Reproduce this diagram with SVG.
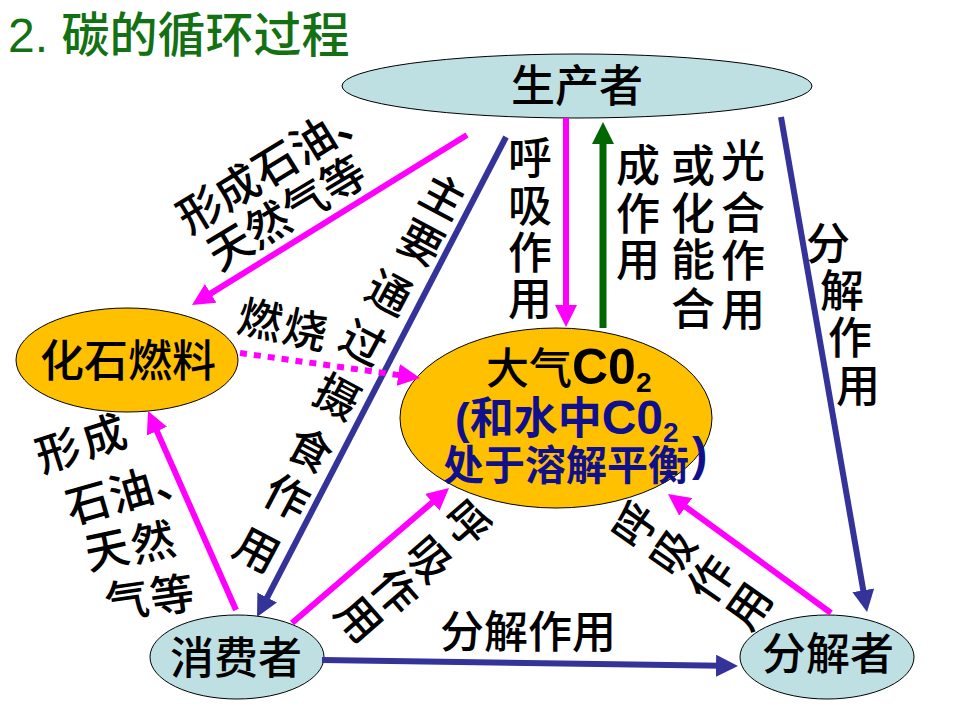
<svg xmlns="http://www.w3.org/2000/svg" width="960" height="720" viewBox="0 0 960 720">
<defs>
<style>
.cjk{font-family:"Noto Sans CJK SC","Noto Sans CJK JP",sans-serif;font-size:44px;font-weight:500;fill:#000}
.c{text-anchor:middle}
.lb{fill:#BFE0E3;stroke:#000;stroke-width:1}
.or{fill:#FFC000;stroke:#000;stroke-width:1}
.mg{stroke:#FF00FF;stroke-width:6;fill:none}
.bl{stroke:#333399;stroke-width:6;fill:none}
.gr{stroke:#006600;stroke-width:7;fill:none}
.lat{font-family:"Liberation Sans",Arial,sans-serif;font-weight:bold}
.nv{fill:#10108C}
</style>
<marker id="hm" markerUnits="userSpaceOnUse" markerWidth="22" markerHeight="22" refX="6" refY="11" orient="auto"><path d="M0,0 L22,11 L0,22 z" fill="#FF00FF"/></marker>
<marker id="hb" markerUnits="userSpaceOnUse" markerWidth="22" markerHeight="22" refX="6" refY="11" orient="auto"><path d="M0,0 L22,11 L0,22 z" fill="#333399"/></marker>
<marker id="hg" markerUnits="userSpaceOnUse" markerWidth="22" markerHeight="22" refX="6" refY="11" orient="auto"><path d="M0,0 L22,11 L0,22 z" fill="#006600"/></marker>
</defs>
<rect width="960" height="720" fill="#fff"/>

<text id="title" x="8" y="52" font-size="48" fill="#137013"><tspan font-family="Liberation Sans, Arial, sans-serif">2. </tspan><tspan font-family="Noto Sans CJK SC, Noto Sans CJK JP, sans-serif" font-weight="500">碳的循环过程</tspan></text>

<g id="producer">
<ellipse class="lb" cx="577" cy="86" rx="235" ry="32"/>
<text class="cjk c" x="577" y="102">生产者</text>
</g>
<g id="fossil-fuel">
<ellipse class="or" cx="127" cy="360" rx="111" ry="52"/>
<text class="cjk c" x="128" y="377">化石燃料</text>
</g>
<g id="atmosphere-co2">
<ellipse class="or" cx="556" cy="418" rx="156" ry="90"/>
<text x="486" y="384"><tspan class="cjk" style="font-size:43px">大气</tspan><tspan class="lat" font-size="50">C0</tspan><tspan class="lat" font-size="28" dy="8">2</tspan></text>
<text x="455" y="434"><tspan class="lat nv" font-size="44">(</tspan><tspan class="cjk nv" style="font-weight:bold">和水中</tspan><tspan class="lat nv" font-size="48">C0</tspan><tspan class="lat nv" font-size="28" dy="8">2</tspan></text>
<text class="cjk nv" x="443" y="480" style="font-size:41px;font-weight:bold">处于溶解平衡</text>
<text class="lat nv" x="692" y="470" font-size="46">)</text>
</g>
<g id="consumer">
<ellipse class="lb" cx="237" cy="657" rx="87" ry="42"/>
<text class="cjk c" x="236" y="674">消费者</text>
</g>
<g id="decomposer">
<ellipse class="lb" cx="827" cy="657" rx="87" ry="42"/>
<text class="cjk c" x="828" y="670">分解者</text>
</g>

<g id="connectors">
<line class="mg" x1="566" y1="118" x2="566" y2="311" marker-end="url(#hm)"/>
<line class="gr" x1="603" y1="328" x2="603" y2="138" marker-end="url(#hg)"/>
<line class="mg" x1="467" y1="135" x2="205.6" y2="296.6" marker-end="url(#hm)"/>
<line class="bl" x1="506" y1="137" x2="264.4" y2="602.8" marker-end="url(#hb)"/>
<line class="bl" x1="781" y1="117" x2="864.3" y2="596.2" marker-end="url(#hb)"/>
<line class="mg" x1="240" y1="353" x2="404.2" y2="375.8" stroke-dasharray="7 7" marker-end="url(#hm)"/>
<line class="mg" x1="236" y1="610" x2="154.5" y2="425.6" marker-end="url(#hm)"/>
<line class="mg" x1="292" y1="623" x2="436.9" y2="498.4" marker-end="url(#hm)"/>
<line class="mg" x1="831" y1="613" x2="680.9" y2="503.4" marker-end="url(#hm)"/>
<line class="bl" x1="322" y1="660" x2="722" y2="665.8" marker-end="url(#hb)"/>
</g>

<g id="edge-labels">
<text class="cjk c"><tspan x="530" y="174">呼</tspan><tspan x="530" y="222">吸</tspan><tspan x="530" y="269">作</tspan><tspan x="530" y="315">用</tspan></text>
<text class="cjk c"><tspan x="743" y="177">光</tspan><tspan x="743" y="229">合</tspan><tspan x="743" y="277">作</tspan><tspan x="743" y="326">用</tspan></text>
<text class="cjk c"><tspan x="693" y="182">或</tspan><tspan x="693" y="230">化</tspan><tspan x="693" y="276">能</tspan><tspan x="693" y="325">合</tspan></text>
<text class="cjk c"><tspan x="638" y="182">成</tspan><tspan x="638" y="230">作</tspan><tspan x="638" y="276">用</tspan></text>
<text class="cjk c"><tspan x="828" y="260">分</tspan><tspan x="842" y="307">解</tspan><tspan x="850" y="354">作</tspan><tspan x="858" y="402">用</tspan></text>
<g transform="translate(200,210) rotate(-31.5)"><text class="cjk" x="-22" y="16">形成石油、</text></g>
<g transform="translate(230,247) rotate(-31)"><text class="cjk" x="-22" y="16">天然气等</text></g>
<text class="cjk c" transform="translate(260,320) rotate(12)" y="16">燃</text>
<text class="cjk c" transform="translate(305,330) rotate(12)" y="16">烧</text>
<text class="cjk c" transform="translate(443,197) rotate(28)" y="16">主</text>
<text class="cjk c" transform="translate(421,243) rotate(28)" y="16">要</text>
<text class="cjk c" transform="translate(389,293) rotate(28)" y="16">通</text>
<text class="cjk c" transform="translate(363,343) rotate(28)" y="16">过</text>
<text class="cjk c" transform="translate(337,397) rotate(28)" y="16">摄</text>
<text class="cjk c" transform="translate(310,450) rotate(28)" y="16">食</text>
<text class="cjk c" transform="translate(287,497) rotate(28)" y="16">作</text>
<text class="cjk c" transform="translate(257,550) rotate(28)" y="16">用</text>
<text class="cjk c" transform="translate(58,451) rotate(-18)" y="16">形</text>
<text class="cjk c" transform="translate(104,436) rotate(-18)" y="16">成</text>
<text class="cjk c" transform="translate(88,503) rotate(-16)" y="16">石</text>
<text class="cjk c" transform="translate(131,491) rotate(-16)" y="16">油</text>
<text class="cjk c" transform="translate(174,479) rotate(-16)" y="16">、</text>
<text class="cjk c" transform="translate(107,550) rotate(-12)" y="16">天</text>
<text class="cjk c" transform="translate(153,542) rotate(-12)" y="16">然</text>
<text class="cjk c" transform="translate(127,600) rotate(-8)" y="16">气</text>
<text class="cjk c" transform="translate(172,595) rotate(-8)" y="16">等</text>
<text class="cjk c" transform="translate(467,523) rotate(49)" y="16">呼</text>
<text class="cjk c" transform="translate(429,559) rotate(49)" y="16">吸</text>
<text class="cjk c" transform="translate(395,591) rotate(49)" y="16">作</text>
<text class="cjk c" transform="translate(359,619) rotate(49)" y="16">用</text>
<text class="cjk c" transform="translate(635,525) rotate(-55)" y="16">呼</text>
<text class="cjk c" transform="translate(673,552) rotate(-55)" y="16">吸</text>
<text class="cjk c" transform="translate(711,579) rotate(-55)" y="16">作</text>
<text class="cjk c" transform="translate(749,606) rotate(-55)" y="16">用</text>
<text class="cjk c" x="528" y="648">分解作用</text>
</g>
</svg>
